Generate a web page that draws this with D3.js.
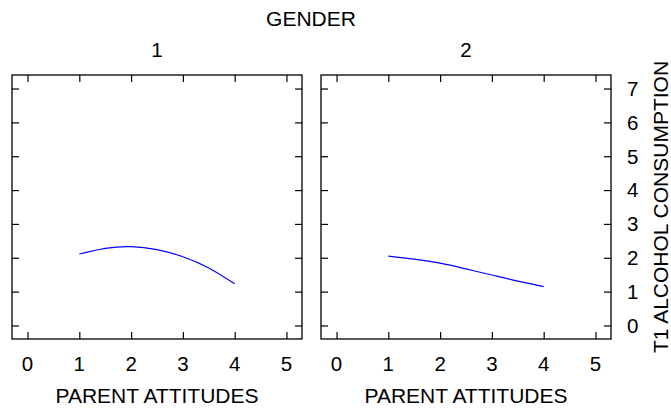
<!DOCTYPE html>
<html>
<head>
<meta charset="utf-8">
<script src="https://cdn.jsdelivr.net/npm/d3@7"></script>
<style>
body { margin: 0; background: #fff; }
svg { display: block; }
text { font-family: "Liberation Sans", Arial, Helvetica, sans-serif; fill: #000; }
</style>
</head>
<body>
<svg id="chart" width="671" height="410"></svg>
<script>
// ---- data ----
const panels = ["1", "2"];
const xValues = [1, 1.5, 2, 2.5, 3, 3.5, 4];
const gender1 = [2.11, 2.28, 2.33, 2.24, 2.03, 1.70, 1.23];
const gender2 = [2.05, 1.96, 1.84, 1.67, 1.49, 1.31, 1.15];
const xTicks = [0, 1, 2, 3, 4, 5];
const yTicks = [0, 1, 2, 3, 4, 5, 6, 7];
const seriesByPanel = [gender1, gender2];
const groupTitle = "GENDER";
const xTitle = "PARENT ATTITUDES";
const yTitle = "T1 ALCOHOL CONSUMPTION";

// ---- layout ----
const svg = d3.select("#chart");
const panelLeft = [12, 321];
const panelW = 290;
const plotTop = 75, plotBottom = 339;
const tickLen = 7;

const y = d3.scaleLinear().domain([-0.4, 7.4]).range([plotBottom, plotTop]);

svg.append("text")
  .attr("x", 311).attr("y", 26)
  .attr("text-anchor", "middle")
  .style("font-size", "21px")
  .text(groupTitle);

panels.forEach((p, i) => {
  const x0 = panelLeft[i], x1 = x0 + panelW;
  const x = d3.scaleLinear().domain([-0.3, 5.3]).range([x0, x1]);
  const g = svg.append("g");

  // panel title
  g.append("text")
    .attr("x", (x0 + x1) / 2).attr("y", 57)
    .attr("text-anchor", "middle")
    .style("font-size", "20.5px")
    .text(p);

  // axes with inward ticks on all sides
  const axB = d3.axisBottom(x).tickValues(xTicks).tickSize(-tickLen).tickFormat("");
  const axT = d3.axisTop(x).tickValues(xTicks).tickSize(-tickLen).tickFormat("");
  const axL = d3.axisLeft(y).tickValues(yTicks).tickSize(-tickLen).tickFormat("");
  const axR = d3.axisRight(y).tickValues(yTicks).tickSize(-tickLen).tickFormat("");
  [[axB, `translate(0,${plotBottom})`], [axT, `translate(0,${plotTop})`],
   [axL, `translate(${x0},0)`], [axR, `translate(${x1},0)`]].forEach(([ax, tr]) => {
    const a = g.append("g").attr("transform", tr).call(ax);
    a.select(".domain").remove();
    a.selectAll("line").attr("stroke", "#000").attr("stroke-width", 1.2);
  });

  // frame
  g.append("rect")
    .attr("x", x0).attr("y", plotTop)
    .attr("width", x1 - x0).attr("height", plotBottom - plotTop)
    .attr("fill", "none").attr("stroke", "#000").attr("stroke-width", 1.3);

  // x tick labels
  g.selectAll("text.xt").data(xTicks).enter().append("text")
    .attr("class", "xt")
    .attr("x", d => x(d)).attr("y", 371)
    .attr("text-anchor", "middle")
    .style("font-size", "20.5px")
    .text(d => d);

  // x title
  g.append("text")
    .attr("x", (x0 + x1) / 2).attr("y", 403)
    .attr("text-anchor", "middle")
    .style("font-size", "21px")
    .text(xTitle);

  // line
  const line = d3.line()
    .x((d, k) => x(xValues[k]))
    .y(d => y(d))
    .curve(d3.curveNatural);
  g.append("path")
    .datum(seriesByPanel[i])
    .attr("d", line)
    .attr("fill", "none")
    .attr("stroke", "#0000ff")
    .attr("stroke-width", 1.2);

  if (i === panels.length - 1) {
    g.selectAll("text.yt").data(yTicks).enter().append("text")
      .attr("class", "yt")
      .attr("x", x1 + 16).attr("y", d => y(d))
      .attr("dy", "0.36em")
      .style("font-size", "20.5px")
      .text(d => d);
    g.append("text")
      .attr("transform", `translate(668,${(plotTop + plotBottom) / 2}) rotate(-90)`)
      .attr("text-anchor", "middle")
      .style("font-size", "21px")
      .text(yTitle);
  }
});
</script>
</body>
</html>
